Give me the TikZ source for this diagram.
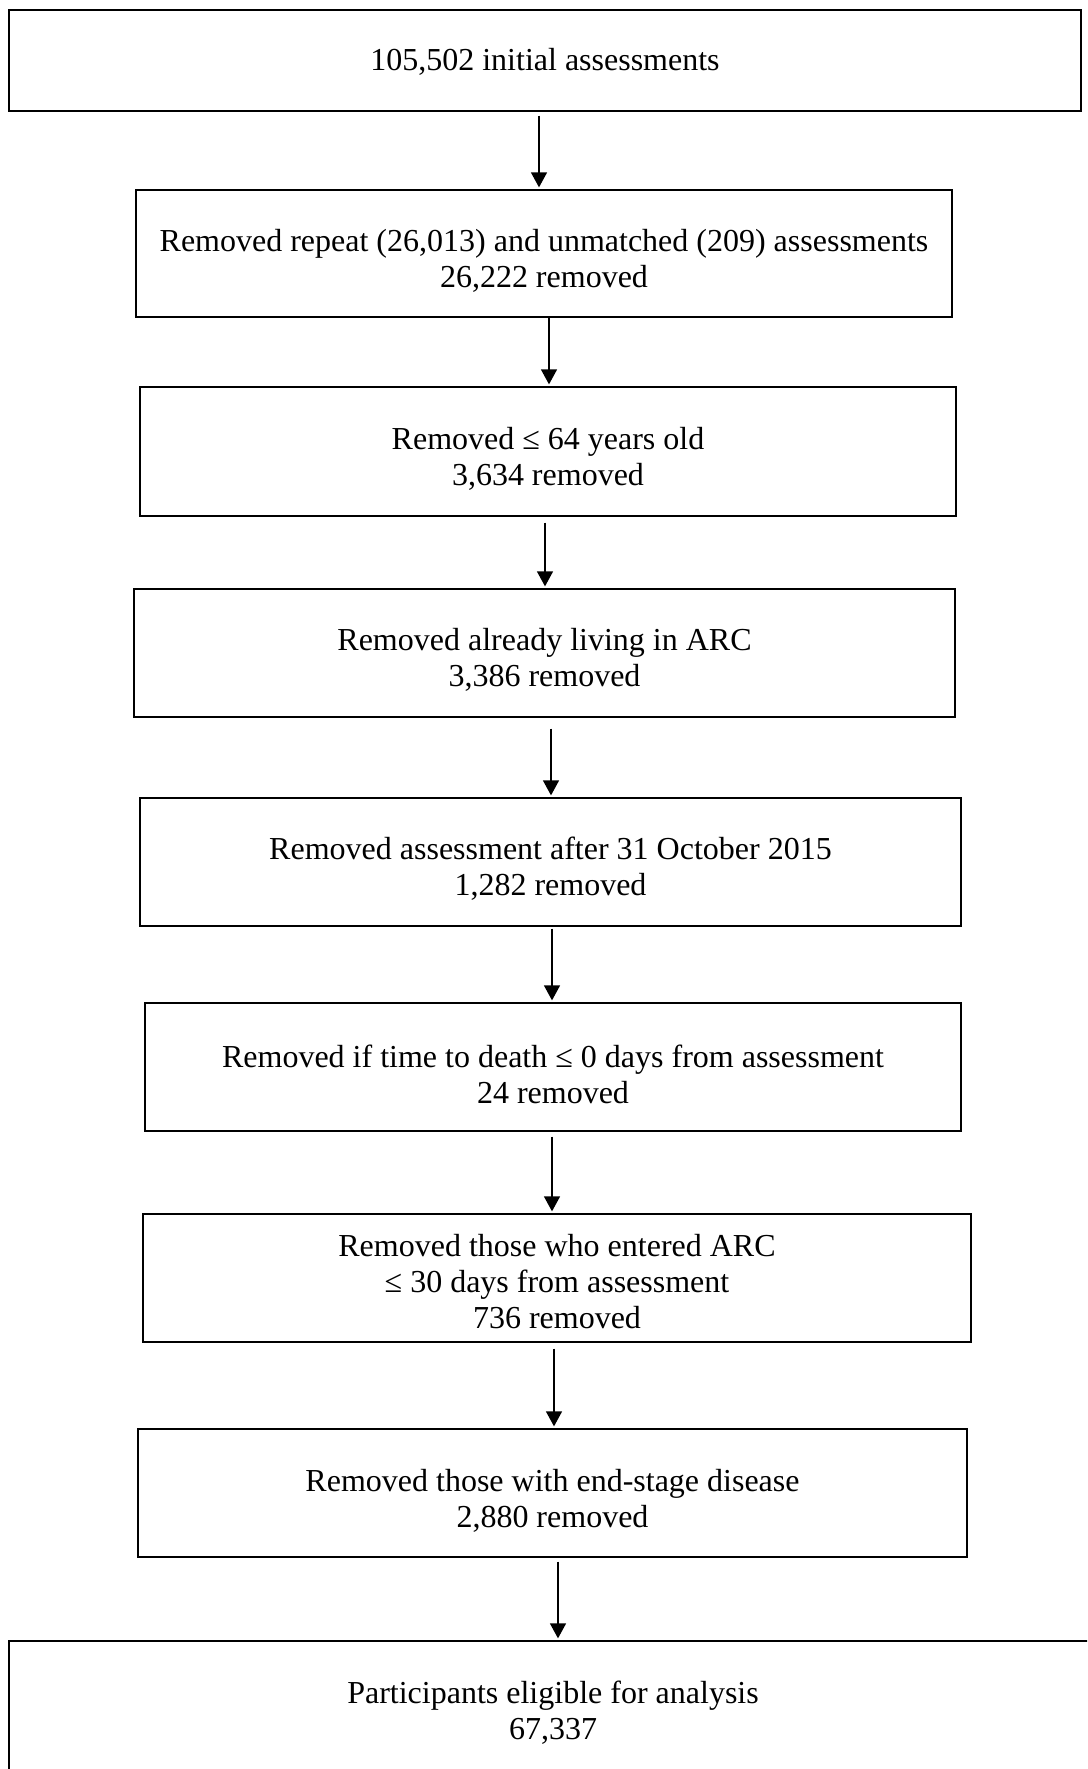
\documentclass[tikz,border=0pt]{standalone}
\usepackage{fontspec}
\setmainfont{Liberation Serif}
\usetikzlibrary{arrows.meta}
\tikzset{
  stagebox/.style={draw=black, line width=1.3pt, rectangle, inner sep=0pt},
  stagetext/.style={inner sep=0pt, align=center, font=\fontsize{32}{36}\selectfont},
  flowarrow/.style={line width=1.3pt, -{Triangle[width=16pt,length=15pt]}, shorten >=2pt}
}
\begin{document}
\begin{tikzpicture}[x=1pt,y=-1pt]
\useasboundingbox (0,0) rectangle (1087,1769);
\clip (0,0) rectangle (1087,1769);
\node[stagebox, minimum width=1072pt, minimum height=101pt] (b1) at (545,60.5) {};
\node[stagebox, minimum width=816pt, minimum height=127pt] (b2) at (544,253.5) {};
\node[stagebox, minimum width=816pt, minimum height=129pt] (b3) at (548,451.5) {};
\node[stagebox, minimum width=821pt, minimum height=128pt] (b4) at (544.5,653) {};
\node[stagebox, minimum width=821pt, minimum height=128pt] (b5) at (550.5,862) {};
\node[stagebox, minimum width=816pt, minimum height=128pt] (b6) at (553,1067) {};
\node[stagebox, minimum width=828pt, minimum height=128pt] (b7) at (557,1278) {};
\node[stagebox, minimum width=829pt, minimum height=128pt] (b8) at (552.5,1493) {};
\node[stagebox, minimum width=1088pt, minimum height=130pt] (b9) at (553,1706) {};
\node[stagetext] (t1) at ([yshift=-1pt]b1.center) {105,502 initial assessments};
\node[stagetext] (t2) at ([yshift=-7pt]b2.center) {Removed repeat (26,013) and unmatched (209) assessments\\26,222 removed};
\node[stagetext] (t3) at ([yshift=-7pt]b3.center) {Removed ≤ 64 years old\\3,634 removed};
\node[stagetext] (t4) at ([yshift=-7pt]b4.center) {Removed already living in ARC\\3,386 removed};
\node[stagetext] (t5) at ([yshift=-7pt]b5.center) {Removed assessment after 31 October 2015\\1,282 removed};
\node[stagetext] (t6) at ([yshift=-7pt]b6.center) {Removed if time to death ≤ 0 days from assessment\\24 removed};
\node[stagetext] (t7) at ([yshift=-4pt]b7.center) {Removed those who entered ARC\\≤ 30 days from assessment\\736 removed};
\node[stagetext] (t8) at ([yshift=-8pt]b8.center) {Removed those with end-stage disease\\2,880 removed};
\node[stagetext] (t9) at ([yshift=-7pt]b9.center) {Participants eligible for analysis\\67,337};
\coordinate (x1) at (539,0);
\coordinate (x2) at (549,0);
\coordinate (x3) at (545,0);
\coordinate (x4) at (551,0);
\coordinate (x5) at (552,0);
\coordinate (x6) at (552,0);
\coordinate (x7) at (554,0);
\coordinate (x8) at (558,0);
\draw[flowarrow] ([yshift=-4pt]b1.south -| x1) -- (b2.north -| x1);
\draw[flowarrow] (b2.south -| x2) -- (b3.north -| x2);
\draw[flowarrow] ([yshift=-6pt]b3.south -| x3) -- (b4.north -| x3);
\draw[flowarrow] ([yshift=-11pt]b4.south -| x4) -- (b5.north -| x4);
\draw[flowarrow] ([yshift=-2pt]b5.south -| x5) -- (b6.north -| x5);
\draw[flowarrow] ([yshift=-5pt]b6.south -| x6) -- (b7.north -| x6);
\draw[flowarrow] ([yshift=-6pt]b7.south -| x7) -- (b8.north -| x7);
\draw[flowarrow] ([yshift=-4pt]b8.south -| x8) -- (b9.north -| x8);
\end{tikzpicture}
\end{document}
